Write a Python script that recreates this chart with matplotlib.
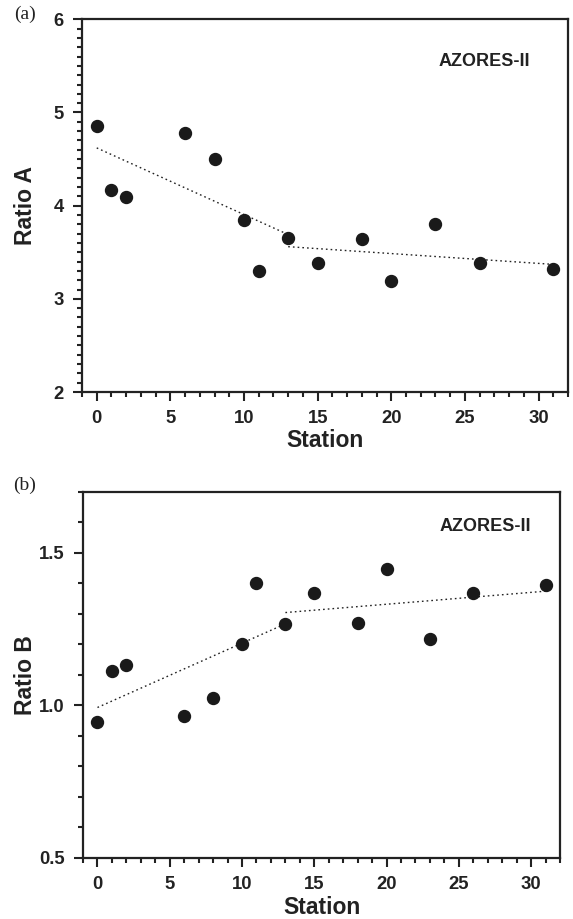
import matplotlib
matplotlib.use("Agg")
import matplotlib.pyplot as plt
from matplotlib.ticker import MultipleLocator

plt.rcParams['font.family'] = ['Liberation Sans', 'DejaVu Sans']
plt.rcParams['font.weight'] = 'bold'

# station numbers
station = [0, 1, 2, 6, 8, 10, 11, 13, 15, 18, 20, 23, 26, 31]

# (a) ratio A
ratio_a = [4.86, 4.17, 4.09, 4.78, 4.50, 3.85, 3.30, 3.65, 3.38, 3.64, 3.19, 3.80, 3.38, 3.32]
# piecewise trend lines (a)
fit_a1_x = [0, 13]
fit_a1_y = [4.62, 3.69]
fit_a2_x = [13, 31]
fit_a2_y = [3.56, 3.37]

# (b) ratio B
ratio_b = [0.947, 1.112, 1.133, 0.964, 1.024, 1.200, 1.402, 1.267, 1.367, 1.271, 1.448, 1.217, 1.369, 1.393]
fit_b1_x = [0, 13]
fit_b1_y = [0.993, 1.267]
fit_b2_x = [13, 31]
fit_b2_y = [1.304, 1.374]

xticks = [0, 5, 10, 15, 20, 25, 30]

fig = plt.figure(figsize=(5.73, 9.19), dpi=100)
ax1 = fig.add_axes([0.1431, 0.5734, 0.8482, 0.4056])
ax2 = fig.add_axes([0.1449, 0.0664, 0.8325, 0.3986])


def style(ax):
    for s in ax.spines.values():
        s.set_linewidth(1.6)
        s.set_color('#222222')
    ax.set_xlim(-1, 32)
    ax.set_xticks(xticks)
    ax.xaxis.set_minor_locator(MultipleLocator(1))
    ax.yaxis.set_minor_locator(MultipleLocator(0.1))
    ax.tick_params(which='both', direction='out', top=False, right=False,
                   width=1.5, color='#222222')
    ax.tick_params(which='major', length=6.5, pad=6.5, labelsize=13.3)
    ax.tick_params(which='minor', length=3.3)
    for lab in ax.get_xticklabels() + ax.get_yticklabels():
        lab.set_fontweight('bold')
        lab.set_color('#222222')


dot = dict(color='#222222', lw=1.0, linestyle=(0, (1.2, 2.2)))
mk = dict(marker='o', ms=8.6, color='#1a1a1a', linestyle='none')

# ---- panel (a)
ax1.plot(fit_a1_x, fit_a1_y, **dot)
ax1.plot(fit_a2_x, fit_a2_y, **dot)
ax1.plot(station, ratio_a, **mk)
ax1.set_ylim(2, 6)
ax1.set_yticks([2, 3, 4, 5, 6])
style(ax1)
ax1.set_xlabel('Station', fontsize=16.5, fontweight='bold', color='#222222')
ax1.set_ylabel('Ratio A', fontsize=16.5, fontweight='bold', color='#222222')
ax1.xaxis.set_label_coords(0.5, -0.098)
ax1.yaxis.set_label_coords(-0.093, 0.5)
ax1.text(0.827, 0.888, 'AZORES-II', transform=ax1.transAxes, ha='center', va='center',
         fontsize=13, fontweight='bold', color='#222222')

# ---- panel (b)
ax2.plot(fit_b1_x, fit_b1_y, **dot)
ax2.plot(fit_b2_x, fit_b2_y, **dot)
ax2.plot(station, ratio_b, **mk)
ax2.set_ylim(0.5, 1.7)
ax2.set_yticks([0.5, 1.0, 1.5])
ax2.set_yticklabels(['0.5', '1.0', '1.5'])
style(ax2)
ax2.set_xlabel('Station', fontsize=16.5, fontweight='bold', color='#222222')
ax2.set_ylabel('Ratio B', fontsize=16.5, fontweight='bold', color='#222222')
ax2.xaxis.set_label_coords(0.5, -0.104)
ax2.yaxis.set_label_coords(-0.096, 0.5)
ax2.text(0.843, 0.906, 'AZORES-II', transform=ax2.transAxes, ha='center', va='center',
         fontsize=13, fontweight='bold', color='#222222')

fig.text(0.043, 0.984, '(a)', family='Liberation Serif', fontweight='normal',
         fontsize=14, ha='center', va='center', color='#222222')
fig.text(0.042, 0.4715, '(b)', family='Liberation Serif', fontweight='normal',
         fontsize=14, ha='center', va='center', color='#222222')

fig.savefig('out.png', dpi=100)
